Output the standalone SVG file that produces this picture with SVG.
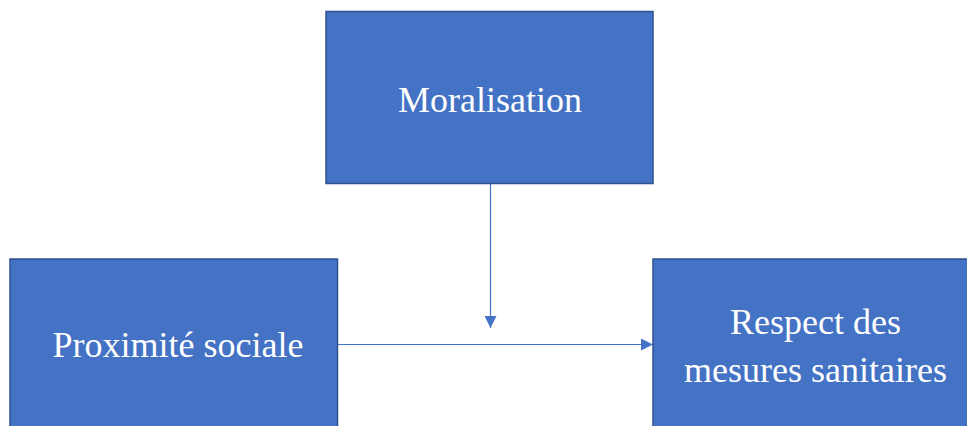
<svg xmlns="http://www.w3.org/2000/svg" width="967" height="426" viewBox="0 0 967 426">
<style>
.box{fill:#4472C4;stroke:#2F528F;stroke-width:1.5}
.lbl{font-family:"Liberation Serif","Times New Roman",serif;font-size:36px;fill:#fff;text-anchor:middle}
.edge{stroke:#4472C4;stroke-width:1.2;fill:none}
</style>
<defs>
<marker id="arr" viewBox="0 0 10 10" refX="10" refY="5" markerWidth="10" markerHeight="10" markerUnits="userSpaceOnUse" orient="auto">
<path d="M0,0 L10,5 L0,10 Z" fill="#4472C4"/>
</marker>
<marker id="arr2" viewBox="0 0 12 12" refX="12" refY="6" markerWidth="12" markerHeight="12" markerUnits="userSpaceOnUse" orient="auto">
<path d="M0,0 L12,6 L0,12 Z" fill="#4472C4"/>
</marker>
</defs>
<g id="connectors">
<line class="edge" x1="490.5" y1="184" x2="490.5" y2="328" marker-end="url(#arr2)"/>
<line class="edge" x1="338" y1="344.5" x2="653" y2="344.5" marker-end="url(#arr2)"/>
</g>
<g id="moralisation">
<rect class="box" x="326" y="11.5" width="327" height="172"/>
<text class="lbl" x="490" y="112">Moralisation</text>
</g>
<g id="proximite">
<rect class="box" x="10" y="259" width="327.5" height="180"/>
<text class="lbl" x="178" y="357">Proximité sociale</text>
</g>
<g id="respect">
<rect class="box" x="653" y="259" width="330" height="180"/>
<text class="lbl" x="815.5" y="334">Respect des</text>
<text class="lbl" x="815.5" y="381.5">mesures sanitaires</text>
</g>
</svg>
